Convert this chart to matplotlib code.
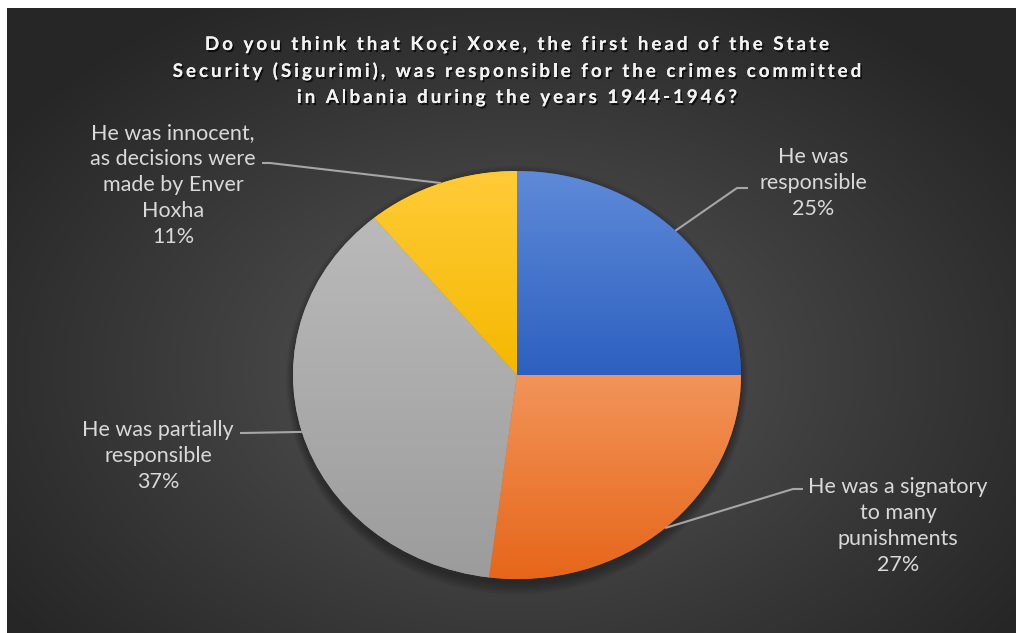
import numpy as np
import matplotlib
matplotlib.use("Agg")
import matplotlib.pyplot as plt
import matplotlib.patheffects as pe
from matplotlib.colors import to_rgb
from matplotlib.font_manager import FontProperties, findfont, get_font
from matplotlib.patches import Ellipse

# ---- data -------------------------------------------------------------
title_lines = [
    "Do you think that Koçi Xoxe, the first head of the State",
    "Security (Sigurimi), was responsible for the crimes committed",
    "in Albania during the years 1944-1946?",
]
categories = [
    "He was\nresponsible",
    "He was a signatory\nto many\npunishments",
    "He was partially\nresponsible",
    "He was innocent,\nas decisions were\nmade by Enver\nHoxha",
]
shares = [25, 27, 37, 11]

# ---- styling ----------------------------------------------------------
W, H, DPI = 1018, 633, 100
slice_top = ["#5f8ad8", "#f29459", "#bababa", "#ffcb38"]
slice_bottom = ["#2c60c0", "#e6661a", "#9c9c9c", "#f5b800"]
label_color = "#d9d9d9"
leader_color = "#a6a6a6"

# pie ellipse in pixels
cx, cy, rx, ry = 517, 375, 224, 204
# label block centres and leader elbows (pixels)
label_xy = [(813, 183), (898, 526), (158, 456), (173, 185)]
elbows = [
    [(737, 188), (748, 188)],
    [(793, 489), (803, 489)],
    [(243, 433), (240, 433)],
    [(270, 163), (262, 163)],
]

fig = plt.figure(figsize=(W / DPI, H / DPI), dpi=DPI, facecolor="white")

# background panel with radial shading
bg = fig.add_axes([0, 0, 1, 1])
bg.set_xlim(0, W)
bg.set_ylim(H, 0)
bg.axis("off")
x0, x1, y0, y1 = 7, 1016, 8, 633
yy, xx = np.mgrid[y0:y1, x0:x1] + 0.5
t = np.clip(np.sqrt(((xx - 517) / 620) ** 2 + ((yy - 370) / 430) ** 2), 0, 1) ** 0.9
inner = np.array(to_rgb("#5a5a5a"))
outer = np.array(to_rgb("#262626"))
img = inner[None, None, :] * (1 - t[..., None]) + outer[None, None, :] * t[..., None]
bg.imshow(img, extent=(x0, x1, y1, y0), origin="upper", aspect="auto",
          interpolation="bilinear", zorder=0)
bg.set_xlim(0, W)
bg.set_ylim(H, 0)

# ---- pie --------------------------------------------------------------
pax = fig.add_axes([(cx - rx) / W, 1 - (cy + ry) / H, 2 * rx / W, 2 * ry / H])
pax.patch.set_alpha(0)
for k in range(6):
    pax.add_patch(Ellipse((0.0, -0.025), 2.0 + 0.012 * k, 2.0 + 0.02 * k,
                          facecolor="black", edgecolor="none", alpha=0.06,
                          zorder=0, clip_on=False))
wedges, _ = pax.pie(shares, startangle=90, counterclock=False, radius=1,
                    colors=slice_bottom, wedgeprops=dict(linewidth=0))
for w, ctop, cbot in zip(wedges, slice_top, slice_bottom):
    ext = w.get_path().get_extents()
    ys = np.linspace(1, -1, 400)
    tt = np.clip((ext.y1 - ys) / (ext.y1 - ext.y0), 0, 1)
    a = np.array(to_rgb(ctop))
    b = np.array(to_rgb(cbot))
    col = a[None, :] * (1 - tt[:, None]) + b[None, :] * tt[:, None]
    im = pax.imshow(col[:, None, :], extent=(-1, 1, -1, 1), origin="upper",
                    aspect="auto", interpolation="bilinear", zorder=1.5)
    im.set_clip_path(w)
pax.set_aspect("auto")
pax.set_xlim(-1, 1)
pax.set_ylim(-1, 1)
pax.axis("off")

# ---- labels with leader lines ----------------------------------------
over = fig.add_axes([0, 0, 1, 1])
over.set_xlim(0, W)
over.set_ylim(H, 0)
over.axis("off")
over.patch.set_alpha(0)
for w, cat, val, (tx, ty), elb in zip(wedges, categories, shares, label_xy, elbows):
    mid = np.deg2rad((w.theta1 + w.theta2) / 2)
    ax_pt = (cx + rx * np.cos(mid), cy - ry * np.sin(mid))
    pts = [ax_pt] + elb
    over.plot([p[0] for p in pts], [p[1] for p in pts], color=leader_color,
              lw=1.5, solid_capstyle="butt")
    over.text(tx, ty, f"{cat}\n{val}%", ha="center", va="center",
              multialignment="center", color=label_color, fontsize=15.5,
              family="Lato", linespacing=1.38)

# ---- title with letter spacing ---------------------------------------
tprop = FontProperties(family="Lato", weight="bold", size=13.5)
tfont = get_font(findfont(tprop))
tfont.set_size(tprop.get_size_in_points(), DPI)
spacing = 3.0
shadow = [pe.withSimplePatchShadow(offset=(1.2, -1.5), shadow_rgbFace="black",
                                   alpha=0.7), pe.Normal()]
for line, ybase in zip(title_lines, [50, 77, 103]):
    adv = [tfont.load_char(ord(c)).linearHoriAdvance / 65536 for c in line]
    total = sum(adv) + spacing * (len(line) - 1)
    x = 517 - total / 2
    for c, a in zip(line, adv):
        if c != " ":
            over.text(x, ybase, c, ha="left", va="baseline", color="#f2f2f2",
                      fontproperties=tprop, path_effects=shadow)
        x += a + spacing

fig.savefig("out.png", dpi=DPI, facecolor="white")
